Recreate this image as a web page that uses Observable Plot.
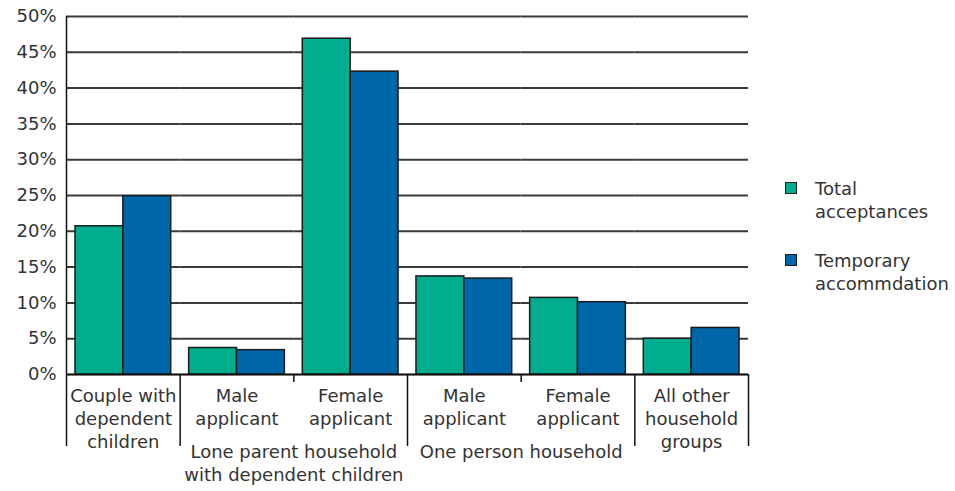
<!DOCTYPE html>
<html><head><meta charset="utf-8">
<script src="https://cdn.jsdelivr.net/npm/d3@7"></script>
<script src="https://cdn.jsdelivr.net/npm/@observablehq/plot@0.6"></script>
<style>
body{margin:0;background:#fff;}
#wrap{position:relative;width:955px;height:491px;font-family:"DejaVu Sans",sans-serif;color:#333;}
.legend{position:absolute;left:785px;top:177px;font-size:18px;line-height:23px;}
.item{display:flex;align-items:flex-start;margin-bottom:26px;}
.sw{width:12px;height:12px;box-sizing:border-box;border:1.5px solid #1a1a1a;margin-top:5px;margin-right:18px;flex:none;}
</style></head><body><div id="wrap"></div>
<script>
// ---- data ----
const groupKeys = ["couple", "loneMale", "loneFemale", "oneMale", "oneFemale", "other"];
const groupLabels = ["Couple with\ndependent\nchildren", "Male\napplicant", "Female\napplicant", "Male\napplicant", "Female\napplicant", "All other\nhousehold\ngroups"];
const superGroupAfter = ["loneMale", "oneMale"];
const superGroupLabels = ["Lone parent household\nwith dependent children", "One person household"];
const seriesNames = ["Total acceptances", "Temporary accommdation"];
const totalAcceptances = [20.7, 3.7, 46.9, 13.7, 10.7, 5.0];
const temporaryAccommodation = [24.9, 3.4, 42.3, 13.4, 10.1, 6.5];
const yTicks = [0, 5, 10, 15, 20, 25, 30, 35, 40, 45, 50];
const separatorKinds = ["axis", "long", "short", "long", "short", "long"];
const seriesColors = ["#00ad8e", "#0066aa"];

// ---- tables ----
const bars = [];
groupKeys.forEach((g, i) => {
  bars.push({group: g, series: seriesNames[0], value: totalAcceptances[i]});
  bars.push({group: g, series: seriesNames[1], value: temporaryAccommodation[i]});
});
const labels = groupKeys.map((g, i) => ({group: g, text: groupLabels[i]}));
const supers = superGroupAfter.map((g, i) => ({group: g, text: superGroupLabels[i]}));
const seps = groupKeys.map((g, i) => ({group: g, kind: separatorKinds[i]}));
const lastSep = [{group: groupKeys[groupKeys.length - 1]}];

const W = 955, H = 491, mL = 66, mR = 207, mT = 16, mB = 117;
const facetW = (W - mL - mR) / groupKeys.length;
const innerH = H - mT - mB;
const font = "DejaVu Sans";
const ink = "#333";
const sepStyle = {fx: "group", x: null, stroke: "#111", strokeWidth: 1.5};

const chart = Plot.plot({
  width: W, height: H,
  marginLeft: mL, marginRight: mR, marginTop: mT, marginBottom: mB,
  style: {fontFamily: font, fontSize: "18px", color: ink, background: "#fff"},
  fx: {domain: groupKeys, padding: 0, axis: null, round: false},
  x: {domain: seriesNames, paddingInner: 0, paddingOuter: 0.1875, axis: null, round: false},
  y: {domain: [0, 50], axis: null},
  color: {domain: seriesNames, range: seriesColors},
  marks: [
    Plot.gridY(yTicks, {stroke: "#3a3a3a", strokeOpacity: 1, strokeWidth: 2}),
    Plot.axisY(yTicks, {label: null, tickSize: 0, tickPadding: 10, tickFormat: d => d + "%", fontSize: 18, fill: ink}),
    Plot.barY(bars, {fx: "group", x: "series", y: "value", fill: "series", stroke: "#1a1a1a", strokeWidth: 1.5}),
    Plot.ruleY([0], {stroke: "#111", strokeWidth: 1.5}),
    Plot.ruleX(seps.filter(d => d.kind === "axis"), {...sepStyle, dx: -facetW / 2, insetBottom: -72}),
    Plot.ruleX(seps.filter(d => d.kind === "long"), {...sepStyle, dx: -facetW / 2, insetTop: innerH, insetBottom: -72}),
    Plot.ruleX(seps.filter(d => d.kind === "short"), {...sepStyle, dx: -facetW / 2, insetTop: innerH, insetBottom: -8}),
    Plot.ruleX(lastSep, {...sepStyle, dx: facetW / 2, insetTop: innerH, insetBottom: -72}),
    Plot.text(labels, {fx: "group", text: "text", frameAnchor: "bottom", lineAnchor: "top", dy: 11, lineHeight: 1.28, fontSize: 18, fill: ink}),
    Plot.text(supers, {fx: "group", text: "text", frameAnchor: "bottom-right", textAnchor: "middle", lineAnchor: "top", dy: 67, lineHeight: 1.28, fontSize: 18, fill: ink})
  ]
});

const wrap = document.getElementById("wrap");
wrap.appendChild(chart);
const legend = document.createElement("div");
legend.className = "legend";
legend.innerHTML = seriesNames.map((s, i) => {
  const words = s.split(" ");
  return `<div class="item"><span class="sw" style="background:${seriesColors[i]}"></span><span>${words[0]}<br>${words.slice(1).join(" ")}</span></div>`;
}).join("");
wrap.appendChild(legend);
</script></body></html>
